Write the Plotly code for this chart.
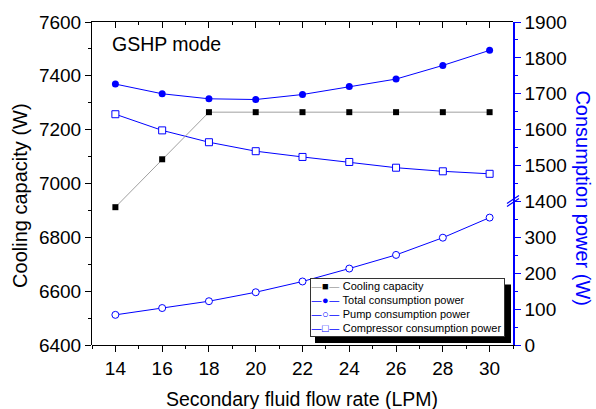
import plotly.graph_objects as go

# ---- data ----
flow = [14, 16, 18, 20, 22, 24, 26, 28, 30]
cooling = [6912, 7090, 7265, 7265, 7265, 7265, 7265, 7265, 7265]
total = [1727, 1700, 1686, 1684, 1698, 1720, 1741, 1779, 1821]
pump = [84, 103, 122, 147, 177, 213, 251, 299, 355]
compressor = [1643, 1598, 1565, 1540, 1524, 1510, 1494, 1484, 1477]

x_ticks = [14, 16, 18, 20, 22, 24, 26, 28, 30]
left_ticks = [6400, 6600, 6800, 7000, 7200, 7400, 7600]
low_ticks = [0, 100, 200, 300]
high_ticks = [1400, 1500, 1600, 1700, 1800, 1900]

W, H = 596, 409
ML, MR, MT, MB = 92, 83, 20, 64
PW, PH = W - ML - MR, H - MT - MB


def px(xp):
    return (xp - ML) / PW


def py(yp):
    return (H - MB - yp) / PH


FONT = "Liberation Sans, Arial, sans-serif"
BLUE = "#0000ff"
TRANSP = "rgba(0,0,0,0)"
brk = 400 / 900

fig = go.Figure()

fig.add_trace(go.Scatter(
    x=flow, y=compressor, xaxis="x", yaxis="y3", mode="lines+markers",
    line=dict(color=BLUE, width=1),
    marker=dict(symbol="square", size=7, color="white", line=dict(color=BLUE, width=1)),
    name="Compressor consumption power", showlegend=False))

fig.add_trace(go.Scatter(
    x=flow, y=total, xaxis="x", yaxis="y3", mode="lines+markers",
    line=dict(color=BLUE, width=1),
    marker=dict(symbol="circle", size=7, color=BLUE),
    name="Total consumption power", showlegend=False))

fig.add_trace(go.Scatter(
    x=flow, y=pump, xaxis="x", yaxis="y2", mode="lines+markers",
    line=dict(color=BLUE, width=1),
    marker=dict(symbol="circle", size=7, color="white", line=dict(color=BLUE, width=1)),
    name="Pump consumption power", showlegend=False))

fig.add_trace(go.Scatter(
    x=flow, y=cooling, xaxis="x2", yaxis="y", mode="lines+markers",
    line=dict(color="#a0a0a0", width=1),
    marker=dict(symbol="square", size=6, color="black"),
    name="Cooling capacity", showlegend=False))

tickfont = dict(family=FONT, size=19, color="black")

fig.update_layout(
    width=W, height=H,
    margin=dict(l=ML, r=MR, t=MT, b=MB),
    paper_bgcolor="white", plot_bgcolor=TRANSP,
    font=dict(family=FONT, color="black"),
    showlegend=False,
    xaxis=dict(range=[13, 31], tickvals=x_ticks, ticks="outside", ticklen=6,
               tickcolor="black", showline=True, linecolor="black", linewidth=1,
               showgrid=False, zeroline=False, tickfont=tickfont,
               minor=dict(dtick=1, tick0=13, ticks="outside", ticklen=3, tickcolor="black"),
               anchor="y2"),
    xaxis2=dict(range=[13, 31], overlaying="x", side="top", tickvals=x_ticks,
                ticks="inside", ticklen=6, tickcolor="black", showline=True,
                linecolor="black", linewidth=1, showgrid=False, zeroline=False,
                showticklabels=False, anchor="y",
                minor=dict(dtick=1, tick0=13, ticks="inside", ticklen=3, tickcolor="black")),
    yaxis=dict(range=[6400, 7600], tickvals=left_ticks, ticks="outside", ticklen=6,
               tickcolor="black", showline=True, linecolor="black", linewidth=1,
               showgrid=False, zeroline=False, tickfont=tickfont, domain=[0, 1],
               minor=dict(dtick=100, tick0=6400, ticks="outside", ticklen=3, tickcolor="black"),
               anchor="x2"),
    yaxis2=dict(range=[0, 400], domain=[0, brk], side="right", anchor="x",
                tickvals=low_ticks, ticks="outside", ticklen=6, tickcolor=BLUE,
                showline=True, linecolor=BLUE, linewidth=1.5, showgrid=False,
                zeroline=False, tickfont=tickfont,
                minor=dict(dtick=50, tick0=0, ticks="outside", ticklen=3, tickcolor=BLUE)),
    yaxis3=dict(range=[1400, 1900], domain=[brk, 1], side="right", anchor="x",
                tickvals=high_ticks, ticks="outside", ticklen=6, tickcolor=BLUE,
                showline=True, linecolor=BLUE, linewidth=1.5, showgrid=False,
                zeroline=False, tickfont=tickfont,
                minor=dict(dtick=50, tick0=1400, ticks="outside", ticklen=3, tickcolor=BLUE)),
)

annotations = [
    dict(text="Cooling capacity (W)", x=px(20.5), y=py(194.5), xref="paper", yref="paper",
         xanchor="center", yanchor="middle",
         textangle=-90, showarrow=False, font=dict(family=FONT, size=20, color="black")),
    dict(text="Consumption power (W)", x=px(583), y=py(197.5), xref="paper", yref="paper",
         xanchor="center", yanchor="middle",
         textangle=90, showarrow=False, font=dict(family=FONT, size=20, color=BLUE)),
    dict(text="Secondary fluid flow rate (LPM)", x=px(302), y=py(399), xref="paper", yref="paper",
         xanchor="center", yanchor="middle",
         showarrow=False, font=dict(family=FONT, size=19.5, color="black")),
    dict(text="GSHP mode", x=px(110), y=py(42), xref="paper", yref="paper",
         xanchor="left", yanchor="middle",
         showarrow=False, font=dict(family=FONT, size=19.5, color="black")),
]

G = "#a0a0a0"
DASH = "<span style='font-family:DejaVu Sans'>—</span>"


def sym(line_color, mark_color, glyph):
    return (f"<span style='color:{line_color}'>{DASH}</span>"
            f"<span style='color:{mark_color}'>{glyph}</span>"
            f"<span style='color:{line_color}'>{DASH}</span> ")


legend_text = (
    sym(G, "black", "■") + "Cooling capacity<br>"
    + sym(BLUE, BLUE, "●") + "Total consumption power<br>"
    + sym(BLUE, BLUE, "○") + "Pump consumption power<br>"
    + sym(BLUE, BLUE, "□") + "Compressor consumption power"
)
annotations.append(dict(
    text=legend_text, x=px(310), y=py(278), xref="paper", yref="paper",
    xanchor="left", yanchor="top", showarrow=False, align="left",
    width=193, height=57, borderpad=0, borderwidth=1, bordercolor="#333",
    bgcolor="white", font=dict(family=FONT, size=11, color="black")))
fig.update_layout(annotations=annotations)

shapes = [
    # legend shadow
    dict(type="rect", xref="paper", yref="paper", x0=px(315), x1=px(511),
         y0=py(343), y1=py(284), fillcolor="black", line=dict(width=0), layer="above"),
    # axis break marks
    dict(type="line", xref="paper", yref="paper", xsizemode="pixel", ysizemode="pixel",
         xanchor=1, yanchor=brk, x0=-6, x1=6, y0=-5, y1=3, line=dict(color=BLUE, width=1.2)),
    dict(type="line", xref="paper", yref="paper", xsizemode="pixel", ysizemode="pixel",
         xanchor=1, yanchor=brk, x0=-6, x1=6, y0=-2, y1=6, line=dict(color=BLUE, width=1.2)),
]
fig.update_layout(shapes=shapes)

fig.write_html("out.html")
